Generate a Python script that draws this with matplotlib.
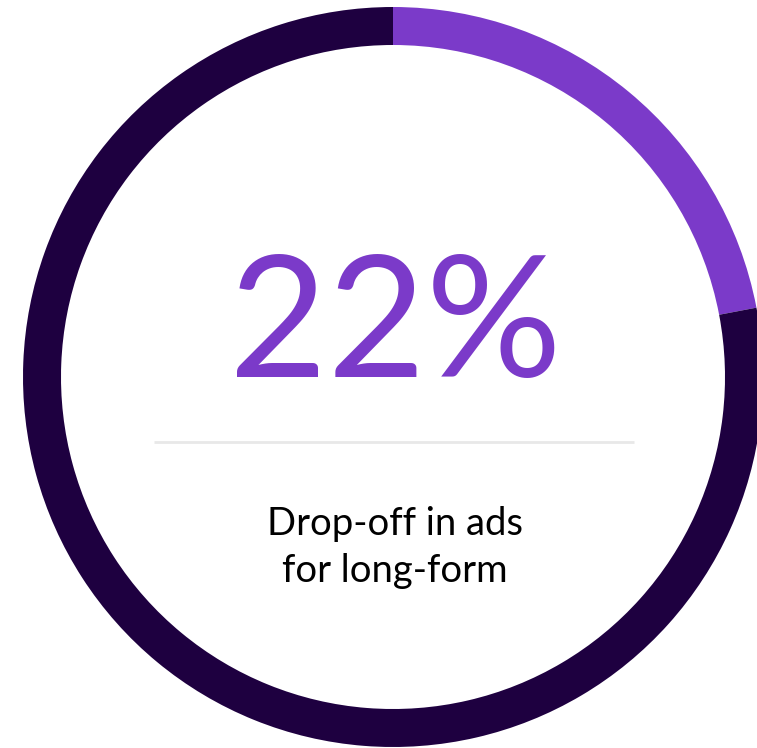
import matplotlib
matplotlib.use("Agg")
import matplotlib.pyplot as plt

# share of ad drop-off shown in the ring
labels = ["Drop-off", "Remaining"]
values = [22, 78]
ring_colors = ["#7b3ac9", "#1e0040"]
headline = "22%"
caption_lines = ["Drop-off in ads", "for long-form"]

W, H = 757, 748
fig = plt.figure(figsize=(W / 100, H / 100), dpi=100)
ax = fig.add_axes([0, 0, 1, 1])

cx, cy = 393, H - 377
ax.pie(values, labels=None, colors=ring_colors, startangle=90, counterclock=False,
       center=(cx, cy), radius=370, wedgeprops=dict(width=38, linewidth=0),
       frame=True)
ax.set_xlim(0, W)
ax.set_ylim(0, H)
ax.set_aspect("equal")
ax.axis("off")

# big number, thin divider and caption
ax.text(395, H - 377, headline, ha="center", va="baseline", fontsize=122,
        family="Lato", color="#7b3ac9")
ax.plot([154, 634], [H - 442, H - 442], color="#e8e8e8", lw=2, solid_capstyle="butt")
for i, line in enumerate(caption_lines):
    ax.text(395, H - 535 - 47 * i, line, ha="center", va="baseline", fontsize=27.5,
            family="Lato", color="#000000")

fig.savefig("out.png", dpi=100, facecolor="white")
